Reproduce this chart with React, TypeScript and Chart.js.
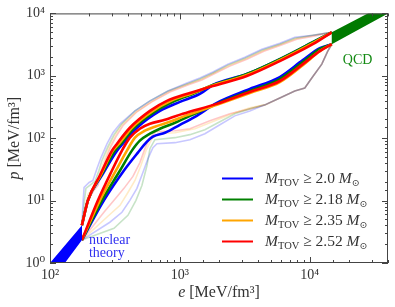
import React, { useEffect, useRef } from "react";
import { Chart, registerables } from "chart.js";

Chart.register(...registerables);

// ---- axis ranges and labels ----
const E_MIN = 100;
const E_MAX = 40000;
const P_MIN = 1;
const P_MAX = 10000;
const X_TICK_LABELS: Record<number, string> = { 2: "10²", 3: "10³", 4: "10⁴" };
const Y_TICK_LABELS: Record<number, string> = { 0: "10⁰", 1: "10¹", 2: "10²", 3: "10³", 4: "10⁴" };
const X_TITLE = ["e", " [MeV/fm³]"];
const Y_TITLE = ["p", " [MeV/fm³]"];
const LEGEND_MASSES = ["2.0", "2.18", "2.35", "2.52"];
const COLORS = ["#0000ff", "#008000", "#ffa500", "#ff0000"];
const FAINT = ["rgba(0,0,255,0.22)", "rgba(0,128,0,0.22)", "rgba(255,165,0,0.22)", "rgba(255,0,0,0.22)"];

// ---- bands ----
const NUC_E = [100, 176.3, 176.3, 100];
const NUC_P = [1.0, 4.03, 2.33, 0.48];
const QCD_E = [14761, 40000, 40000, 14761];
const QCD_P = [4981, 14720, 10000, 3206];

// ---- upper bounds (main) ----
const BLUE_UP_E = [176, 196, 251, 328, 364, 467, 702, 1000, 1425, 1795, 3276, 5878, 10546, 14761];
const BLUE_UP_P = [4.03, 10.1, 25.3, 63.2, 81.7, 147, 274, 382, 512, 712, 1066, 1849, 3451, 4981];
const GREEN_UP_E = [176, 196, 247, 316, 352, 443, 654, 916, 1305, 1795, 3276, 5878, 10546, 14761];
const GREEN_UP_P = [4.03, 10.1, 25.3, 63.2, 81.7, 147, 274, 396, 531, 712, 1066, 1849, 3451, 4981];
const ORANGE_UP_E = [176, 196, 245, 305, 340, 427, 620, 853, 1259, 1795, 3276, 5878, 10546, 14761];
const ORANGE_UP_P = [4.03, 10.1, 25.3, 63.2, 81.7, 147, 274, 396, 531, 700, 1028, 1782, 3326, 4981];
const RED_UP_E = [176, 196, 242, 300, 328, 412, 588, 794, 1194, 1795, 3276, 5878, 10546, 14761];
const RED_UP_P = [4.03, 10.1, 25.3, 63.2, 81.7, 147, 274, 396, 531, 687, 991, 1718, 3206, 4981];

// ---- lower bounds (main) ----
const BLUE_LO_E = [176, 260, 371, 475, 558, 620, 767, 1000, 1305, 1926, 3456, 5878, 8837, 11939, 14761];
const BLUE_LO_P = [2.33, 10.1, 30.4, 58.8, 87.9, 106, 122, 164, 220, 368, 615, 955, 1782, 2768, 3206];
const GREEN_LO_E = [176, 251, 346, 427, 492, 588, 702, 916, 1194, 1926, 3456, 5878, 8837, 11939, 14761];
const GREEN_LO_P = [2.33, 10.1, 30.4, 63.2, 91.3, 118, 142, 177, 228, 355, 571, 888, 1656, 2669, 3206];
const ORANGE_LO_E = [176, 242, 322, 391, 451, 538, 642, 838, 1093, 1926, 3456, 5878, 8837, 11939, 14761];
const ORANGE_LO_P = [2.33, 10.1, 30.4, 63.2, 102, 132, 153, 183, 228, 342, 531, 795, 1484, 2480, 3206];
const RED_LO_E = [176, 234, 300, 358, 412, 492, 588, 767, 1055, 1926, 3456, 5878, 8837, 11939, 14761];
const RED_LO_P = [2.33, 10.1, 30.4, 63.2, 102, 142, 170, 197, 246, 355, 551, 825, 1539, 2480, 3206];

// ---- faint outer envelopes ----
const BLUE_FUP_E = [176, 179, 183, 200, 214, 230, 247, 275, 305, 346, 451, 588, 809, 1132, 1425, 1795, 2340, 3162, 4273, 5878, 7666, 10546, 14761];
const BLUE_FUP_P = [4.03, 8.4, 16.3, 19.5, 21.0, 32.7, 48.9, 81.7, 122, 170, 274, 396, 571, 766, 921, 1148, 1539, 1990, 2669, 3326, 4145, 4460, 4981];
const GREEN_FUP_E = [176, 183, 189, 207, 222, 238, 251, 279, 311, 352, 451, 588, 809, 1132, 1425, 1795, 2340, 3162, 4273, 5878, 7666, 10546, 14761];
const GREEN_FUP_P = [4.03, 9.04, 15.7, 18.2, 20.3, 30.4, 43.8, 73.2, 114, 164, 274, 396, 571, 739, 888, 1106, 1484, 1918, 2573, 3206, 3997, 4460, 4981];
const ORANGE_FUP_E = [176, 186, 196, 214, 230, 242, 260, 284, 316, 358, 459, 598, 838, 1152, 1476, 1826, 2425, 3276, 4430, 5984, 7943, 10735, 14761];
const ORANGE_FUP_P = [4.03, 7.52, 12.6, 15.7, 18.8, 28.2, 42.2, 70.6, 110, 164, 265, 382, 571, 739, 888, 1106, 1484, 1918, 2573, 3206, 3997, 4460, 4981];
const RED_FUP_E = [176, 186, 200, 218, 234, 247, 265, 289, 322, 364, 467, 609, 838, 1152, 1476, 1826, 2425, 3276, 4430, 5984, 7943, 10735, 14761];
const RED_FUP_P = [4.03, 6.99, 10.9, 14.6, 17.5, 26.2, 40.7, 68.0, 106, 158, 265, 382, 551, 712, 856, 1066, 1430, 1849, 2480, 3090, 3853, 4300, 4981];

const BLUE_FLO_E = [176, 289, 358, 412, 467, 519, 568, 620, 666, 916, 1194, 1557, 2031, 2649, 3456, 4506, 5878, 7666, 9151, 10361, 12370, 13752, 14761];
const BLUE_FLO_P = [2.33, 4.5, 6.5, 10.1, 15.7, 28.2, 47.1, 70.6, 81.7, 84.8, 94.7, 118, 164, 228, 274, 342, 442, 571, 638, 921, 1539, 2480, 3206];
const GREEN_FLO_E = [176, 311, 398, 459, 510, 558, 588, 642, 916, 1194, 1557, 2031, 2649, 3456, 4506, 5878, 7666, 9151, 10361, 12370, 13752, 14761];
const GREEN_FLO_P = [2.33, 3.61, 5.82, 10.1, 17.5, 36.5, 68.0, 94.7, 102, 114, 137, 183, 246, 295, 342, 442, 571, 638, 921, 1539, 2480, 3206];
const ORANGE_FLO_E = [176, 279, 346, 398, 451, 501, 548, 609, 678, 916, 1305, 1859, 2649, 3456, 4506, 5878, 7666, 9151, 10361, 12370, 13752, 14761];
const ORANGE_FLO_P = [2.33, 5.61, 8.4, 13.5, 21.0, 36.5, 63.2, 98.2, 118, 122, 142, 190, 255, 306, 342, 442, 571, 638, 921, 1539, 2480, 3206];
const RED_FLO_E = [176, 260, 311, 371, 435, 492, 538, 588, 654, 916, 1194, 1701, 2425, 3456, 4506, 5878, 7666, 9151, 10361, 12370, 13752, 14761];
const RED_FLO_P = [2.33, 6.5, 10.1, 15.7, 24.4, 40.7, 68.0, 102, 127, 132, 142, 190, 246, 295, 342, 442, 571, 638, 921, 1539, 2480, 3206];

// ---- annotation anchors (data coordinates) ----
const NUC_LABEL = { e: 199.5, p: [2.01, 1.25], lines: ["nuclear", "theory"] };
const QCD_LABEL = { e: 17950, p: 1539, text: "QCD" };

const SERIF = '"Liberation Serif", "DejaVu Serif", serif';
const TEXT = "#333333";

const zip = (xs: number[], ys: number[]) => xs.map((x, i) => ({ x, y: ys[i] }));

function mainLine(xs: number[], ys: number[], color: string, order: number) {
  return {
    data: zip(xs, ys),
    borderColor: color,
    backgroundColor: color,
    borderWidth: 2.6,
    pointRadius: 0,
    fill: false,
    cubicInterpolationMode: "monotone" as const,
    clip: 0,
    order,
  };
}
function faintLine(xs: number[], ys: number[], color: string) {
  return {
    data: zip(xs, ys),
    borderColor: color,
    backgroundColor: color,
    borderWidth: 1.6,
    pointRadius: 0,
    fill: false,
    tension: 0,
    clip: 0,
    order: 10,
  };
}
function band(xs: number[], ys: number[], color: string) {
  return {
    data: zip(xs, ys),
    borderColor: color,
    backgroundColor: color,
    borderWidth: 0,
    pointRadius: 0,
    fill: "shape" as const,
    tension: 0,
    clip: 0,
    order: 0,
  };
}

function drawParts(ctx: CanvasRenderingContext2D, parts: { t: string; f: string; dy?: number }[], x: number, y: number) {
  let cx = x;
  for (const p of parts) {
    ctx.font = p.f;
    ctx.fillText(p.t, cx, y + (p.dy || 0));
    cx += ctx.measureText(p.t).width;
  }
  return cx;
}
function partsWidth(ctx: CanvasRenderingContext2D, parts: { t: string; f: string }[]) {
  let w = 0;
  for (const p of parts) { ctx.font = p.f; w += ctx.measureText(p.t).width; }
  return w;
}

const decorPlugin = {
  id: "decor",
  afterDraw(chart: any) {
    const ctx: CanvasRenderingContext2D = chart.ctx;
    const { left, right, top, bottom } = chart.chartArea;
    const xs = chart.scales.x;
    const ys = chart.scales.y;
    ctx.save();
    // frame
    ctx.strokeStyle = "#444";
    ctx.lineWidth = 1;
    ctx.strokeRect(left + 0.5, top + 0.5, right - left - 1, bottom - top - 1);
    // ticks (inward, all sides)
    ctx.beginPath();
    for (const t of xs.ticks) {
      const lg = Math.log10(t.value);
      const major = Math.abs(lg - Math.round(lg)) < 1e-6;
      const len = major ? 6 : 3;
      const px = Math.round(xs.getPixelForValue(t.value)) + 0.5;
      ctx.moveTo(px, bottom);
      ctx.lineTo(px, bottom - len);
      ctx.moveTo(px, top);
      ctx.lineTo(px, top + len);
    }
    for (const t of ys.ticks) {
      const lg = Math.log10(t.value);
      const major = Math.abs(lg - Math.round(lg)) < 1e-6;
      const len = major ? 6 : 3;
      const py = Math.round(ys.getPixelForValue(t.value)) + 0.5;
      ctx.moveTo(left, py);
      ctx.lineTo(left + len, py);
      ctx.moveTo(right, py);
      ctx.lineTo(right - len, py);
    }
    ctx.stroke();

    // axis titles
    ctx.fillStyle = TEXT;
    ctx.textBaseline = "alphabetic";
    const xTitleParts = [
      { t: X_TITLE[0], f: `italic 16px ${SERIF}` },
      { t: X_TITLE[1], f: `16px ${SERIF}` },
    ];
    drawParts(ctx, xTitleParts, (left + right) / 2 - partsWidth(ctx, xTitleParts) / 2, 297);

    const yTitleParts = [
      { t: Y_TITLE[0], f: `italic 16px ${SERIF}` },
      { t: Y_TITLE[1], f: `16px ${SERIF}` },
    ];
    const yw = partsWidth(ctx, yTitleParts);
    ctx.save();
    ctx.translate(19, (top + bottom) / 2);
    ctx.rotate(-Math.PI / 2);
    drawParts(ctx, yTitleParts, -yw / 2, 0);
    ctx.restore();

    // annotations
    ctx.font = `14px ${SERIF}`;
    ctx.fillStyle = "#3030f0";
    const nx = xs.getPixelForValue(NUC_LABEL.e);
    NUC_LABEL.lines.forEach((s, i) => ctx.fillText(s, nx, ys.getPixelForValue(NUC_LABEL.p[i])));
    ctx.fillStyle = "#138a13";
    ctx.fillText(QCD_LABEL.text, xs.getPixelForValue(QCD_LABEL.e), ys.getPixelForValue(QCD_LABEL.p));

    // legend
    const lx0 = left + 172;
    const lx1 = left + 203;
    const tx = left + 215;
    const rows = [178, 199, 220, 241];
    LEGEND_MASSES.forEach((m, i) => {
      const y = rows[i];
      ctx.strokeStyle = COLORS[i];
      ctx.lineWidth = 2;
      ctx.beginPath();
      ctx.moveTo(lx0, y + 0.5);
      ctx.lineTo(lx1, y + 0.5);
      ctx.stroke();
      ctx.fillStyle = TEXT;
      drawParts(ctx, [
        { t: "M", f: `italic 15.5px ${SERIF}` },
        { t: "TOV", f: `10.5px ${SERIF}`, dy: 3 },
        { t: ` ≥ ${m} `, f: `15.5px ${SERIF}` },
        { t: "M", f: `italic 15.5px ${SERIF}` },
        { t: "⊙", f: `9.5px ${SERIF}`, dy: 3 },
      ], tx, y + 5);
    });
    ctx.restore();
  },
};

export default function App() {
  const ref = useRef<HTMLCanvasElement | null>(null);
  useEffect(() => {
    document.body.style.margin = "0";
    const canvas = ref.current;
    if (!canvas) return;
    const datasets: any[] = [
      faintLine(BLUE_FUP_E, BLUE_FUP_P, FAINT[0]),
      faintLine(GREEN_FUP_E, GREEN_FUP_P, FAINT[1]),
      faintLine(ORANGE_FUP_E, ORANGE_FUP_P, FAINT[2]),
      faintLine(RED_FUP_E, RED_FUP_P, FAINT[3]),
      faintLine(BLUE_FLO_E, BLUE_FLO_P, FAINT[0]),
      faintLine(GREEN_FLO_E, GREEN_FLO_P, FAINT[1]),
      faintLine(ORANGE_FLO_E, ORANGE_FLO_P, FAINT[2]),
      faintLine(RED_FLO_E, RED_FLO_P, FAINT[3]),
      mainLine(BLUE_UP_E, BLUE_UP_P, COLORS[0], 4),
      mainLine(BLUE_LO_E, BLUE_LO_P, COLORS[0], 4),
      mainLine(GREEN_UP_E, GREEN_UP_P, COLORS[1], 3),
      mainLine(GREEN_LO_E, GREEN_LO_P, COLORS[1], 3),
      mainLine(ORANGE_UP_E, ORANGE_UP_P, COLORS[2], 2),
      mainLine(ORANGE_LO_E, ORANGE_LO_P, COLORS[2], 2),
      mainLine(RED_UP_E, RED_UP_P, COLORS[3], 1),
      mainLine(RED_LO_E, RED_LO_P, COLORS[3], 1),
      band(NUC_E, NUC_P, "#0000ff"),
      band(QCD_E, QCD_P, "#007a00"),
    ];
    const chart = new Chart(canvas, {
      type: "line",
      data: { datasets },
      options: {
        responsive: false,
        animation: false,
        devicePixelRatio: 1,
        parsing: false,
        layout: { padding: { top: 12, right: 7, left: 0, bottom: 0 } },
        plugins: { legend: { display: false }, tooltip: { enabled: false } },
        scales: {
          x: {
            type: "logarithmic",
            min: E_MIN,
            max: E_MAX,
            grid: { display: false, drawTicks: false },
            border: { display: false },
            ticks: {
              autoSkip: false,
              maxRotation: 0,
              padding: 4,
              color: TEXT,
              font: { family: SERIF, size: 14 },
              callback: (v: any) => {
                const lg = Math.log10(Number(v));
                return Math.abs(lg - Math.round(lg)) < 1e-6 ? X_TICK_LABELS[Math.round(lg)] ?? "" : "";
              },
            },
            afterFit: (s: any) => { s.height = 44; },
          },
          y: {
            type: "logarithmic",
            min: P_MIN,
            max: P_MAX,
            grid: { display: false, drawTicks: false },
            border: { display: false },
            ticks: {
              autoSkip: false,
              padding: 5,
              color: TEXT,
              font: { family: SERIF, size: 14 },
              callback: (v: any) => {
                const lg = Math.log10(Number(v));
                return Math.abs(lg - Math.round(lg)) < 1e-6 ? Y_TICK_LABELS[Math.round(lg)] ?? "" : "";
              },
            },
            afterFit: (s: any) => { s.width = 50; },
          },
        },
      } as any,
      plugins: [decorPlugin],
    });
    return () => chart.destroy();
  }, []);
  return (
    <div style={{ width: 395, height: 307 }}>
      <canvas ref={ref} width={395} height={307} style={{ display: "block" }} />
    </div>
  );
}
